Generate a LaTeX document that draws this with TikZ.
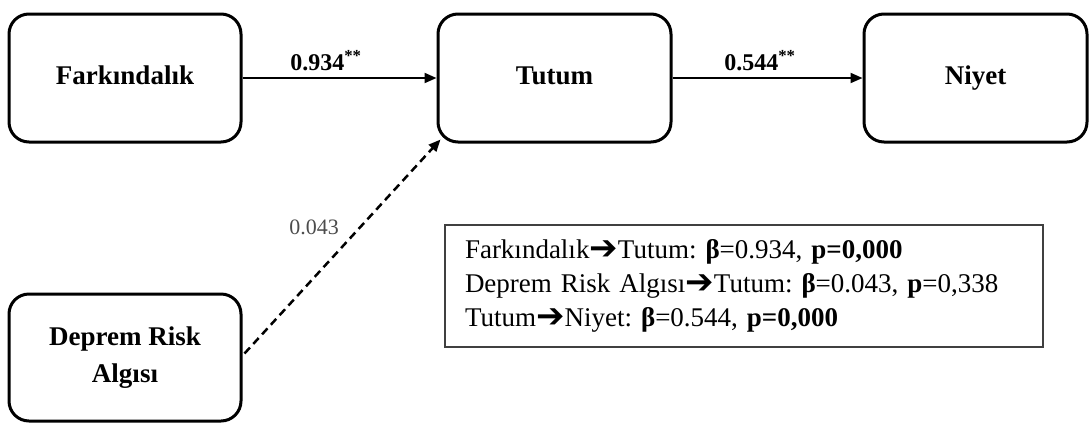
\documentclass[tikz,border=0pt]{standalone}
\usepackage{fontspec}
\setmainfont{Liberation Serif}
\newfontfamily\symfont{DejaVu Sans}
\usetikzlibrary{arrows.meta,calc}
\frenchspacing
\newcommand{\rarr}{{\symfont\fontsize{34}{34}\selectfont\raisebox{-1pt}{➔}}}
\begin{document}
\begin{tikzpicture}[x=1pt,y=-1pt,
  box/.style={draw, line width=3pt, rounded corners=20pt, minimum height=128pt,
    inner sep=0pt, font=\fontsize{27}{37}\selectfont\bfseries, align=center},
  onebox/.style={box, text height=19pt, text depth=6pt},
  arr/.style={line width=2pt, -{Triangle[length=12pt,width=10pt]}},
  dasharr/.style={line width=2.5pt, dash pattern=on 8pt off 5pt, -{Triangle[length=12pt,width=10pt]}},
  elabel/.style={font=\fontsize{24}{28}\selectfont\bfseries, inner sep=0pt},
  glabel/.style={font=\fontsize{22}{26}\selectfont, text=black!70, inner sep=0pt},
  legend/.style={draw=black!75, line width=1.5pt, minimum width=598pt, minimum height=122pt,
    inner xsep=20pt, text width=558pt, align=left, font=\fontsize{27}{34}\selectfont\frenchspacing}
]
\useasboundingbox (0,0) rectangle (1090,424);

\node[onebox, minimum width=232pt] (far) at (125,78) {Farkındalık};
\node[onebox, minimum width=233pt] (tut) at (554.5,78) {Tutum};
\node[onebox, minimum width=223pt] (niy) at (975.5,78) {Niyet};
\node[box, minimum width=232pt, minimum height=127pt] (dra) at (125,357.5) {Deprem Risk\\Algısı};

\draw[arr] (far.east) -- node[elabel, pos=0.43, above=6pt] {0.934\textsuperscript{**}} (tut.west);
\draw[arr] (tut.east) -- node[elabel, pos=0.46, above=6pt] {0.544\textsuperscript{**}} (niy.west);

\coordinate (ds) at ($(dra.east)+(2,-4)$);
\coordinate (de) at ($(tut.south west)+(4,-4)$);
\draw[dasharr] (ds) -- node[glabel, pos=0.59, left=20pt] {0.043} (de);

\node[legend] (leg) at (744,286) {Farkındalık\rarr Tutum: \textbf{β}=0.934, \textbf{p=0,000}\\
Deprem Risk Algısı\rarr Tutum: \textbf{β}=0.043, \textbf{p}=0,338\\
Tutum\rarr Niyet: \textbf{β}=0.544, \textbf{p=0,000}};
\end{tikzpicture}
\end{document}
